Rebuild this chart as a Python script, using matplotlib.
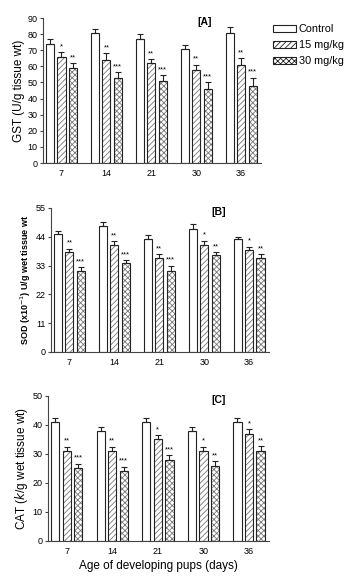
import numpy as np
import matplotlib.pyplot as plt
from matplotlib.patches import Patch

plt.rcParams['font.family'] = ['Liberation Sans', 'DejaVu Sans']
plt.rcParams['hatch.linewidth'] = 0.6

ages = ['7', '14', '21', '30', '36']
groups = ['Control', '15 mg/kg', '30 mg/kg']

gst_mean = [[74, 81, 77, 71, 81], [66, 64, 62, 58, 61], [59, 53, 51, 46, 48]]
gst_err = [[3, 2, 3, 2, 3.5], [3, 4, 2.5, 3, 4], [3, 3.5, 3.5, 4, 5]]
gst_sig = [['', '', '', '', ''], ['*', '**', '**', '**', '**'], ['**', '***', '***', '***', '***']]

sod_mean = [[45, 48, 43, 47, 43], [38, 41, 36, 41, 39], [31, 34, 31, 37, 36]]
sod_err = [[1.3, 1.5, 1.7, 1.8, 1.0], [1.5, 1.2, 1.5, 1.5, 1.2], [1.5, 1.2, 2.0, 1.2, 1.5]]
sod_sig = [['', '', '', '', ''], ['**', '**', '**', '*', '*'], ['***', '***', '***', '**', '**']]

cat_mean = [[41, 38, 41, 38, 41], [31, 31, 35, 31, 37], [25, 24, 28, 26, 31]]
cat_err = [[1.3, 1.3, 1.3, 1.3, 1.3], [1.5, 1.5, 1.5, 1.5, 1.5], [1.6, 1.6, 1.6, 1.6, 1.6]]
cat_sig = [['', '', '', '', ''], ['**', '**', '*', '*', '*'], ['***', '***', '***', '**', '**']]

hatches = ['', '//////', 'xxxxxx']
hatch_col = '#777777'
edge = '#222222'

fig = plt.figure(figsize=(3.56, 5.77), dpi=100)

panels = [
    dict(rect=[0.121, 0.7175, 0.612, 0.2513], mean=gst_mean, err=gst_err, sig=gst_sig,
         ymax=90, yticks=np.arange(0, 91, 10), title='[A]', tx=0.74,
         ylabel='GST (U/g tissue wt)', yl_kw=dict(fontsize=8.5), sig_off=1.2),
    dict(rect=[0.1433, 0.39, 0.612, 0.2496], mean=sod_mean, err=sod_err, sig=sod_sig,
         ymax=55, yticks=np.arange(0, 56, 11), title='[B]', tx=0.77,
         ylabel='SOD (x10$^{-1}$) U/g wet tissue wt', yl_kw=dict(fontsize=6.5, fontweight='bold'),
         sig_off=0.7),
    dict(rect=[0.1348, 0.0624, 0.621, 0.2513], mean=cat_mean, err=cat_err, sig=cat_sig,
         ymax=50, yticks=np.arange(0, 51, 10), title='[C]', tx=0.77,
         ylabel='CAT ($\\it{k}$/g wet tissue wt)', yl_kw=dict(fontsize=8.5), sig_off=0.7),
]

x = np.arange(len(ages))
pitch = 0.254
width = 0.18

for p in panels:
    ax = fig.add_axes(p['rect'])
    for i in range(3):
        xs = x + (i - 1) * pitch
        ax.bar(xs, p['mean'][i], width, color='white', hatch=hatches[i],
               edgecolor=hatch_col, linewidth=0, zorder=2)
        ax.bar(xs, p['mean'][i], width, color='none', edgecolor=edge,
               linewidth=0.8, zorder=3)
        ax.errorbar(xs, p['mean'][i], yerr=[np.zeros(5), p['err'][i]], fmt='none',
                    ecolor=edge, elinewidth=0.8, capsize=2.2, capthick=0.8, zorder=4)
        for j in range(5):
            if p['sig'][i][j]:
                ax.text(xs[j], p['mean'][i][j] + p['err'][i][j] + p['sig_off'],
                        p['sig'][i][j], ha='center', va='bottom', fontsize=5.5)
    ax.set_xlim(-0.41, 4.44)
    ax.set_ylim(0, p['ymax'])
    ax.set_yticks(p['yticks'])
    ax.set_xticks(x)
    ax.set_xticklabels(ages)
    ax.tick_params(axis='x', length=0, labelsize=6.5, pad=4)
    ax.tick_params(axis='y', length=2.5, width=0.8, labelsize=6.5, pad=1.5, color='#444444')
    for s in ['top', 'right']:
        ax.spines[s].set_visible(False)
    for s in ['left', 'bottom']:
        ax.spines[s].set_color('#444444')
        ax.spines[s].set_linewidth(0.8)
    ax.text(p['tx'], 0.97, p['title'], transform=ax.transAxes, ha='center', va='center',
            fontsize=7.5, fontweight='bold')
    ax.set_ylabel(p['ylabel'], labelpad=2, **p['yl_kw'])

ax.set_xlabel('Age of developing pups (days)', fontsize=8.5, labelpad=3)

handles = [Patch(facecolor='white', edgecolor=edge, hatch=h, linewidth=0.8) for h in hatches]
fig.legend(handles, groups, loc='upper left', bbox_to_anchor=(0.767, 0.958), frameon=False,
           fontsize=7.8, handlelength=2.1, handleheight=0.65, handletextpad=0.25,
           labelspacing=0.55, borderaxespad=0, borderpad=0)

fig.savefig('out.png', dpi=100)
